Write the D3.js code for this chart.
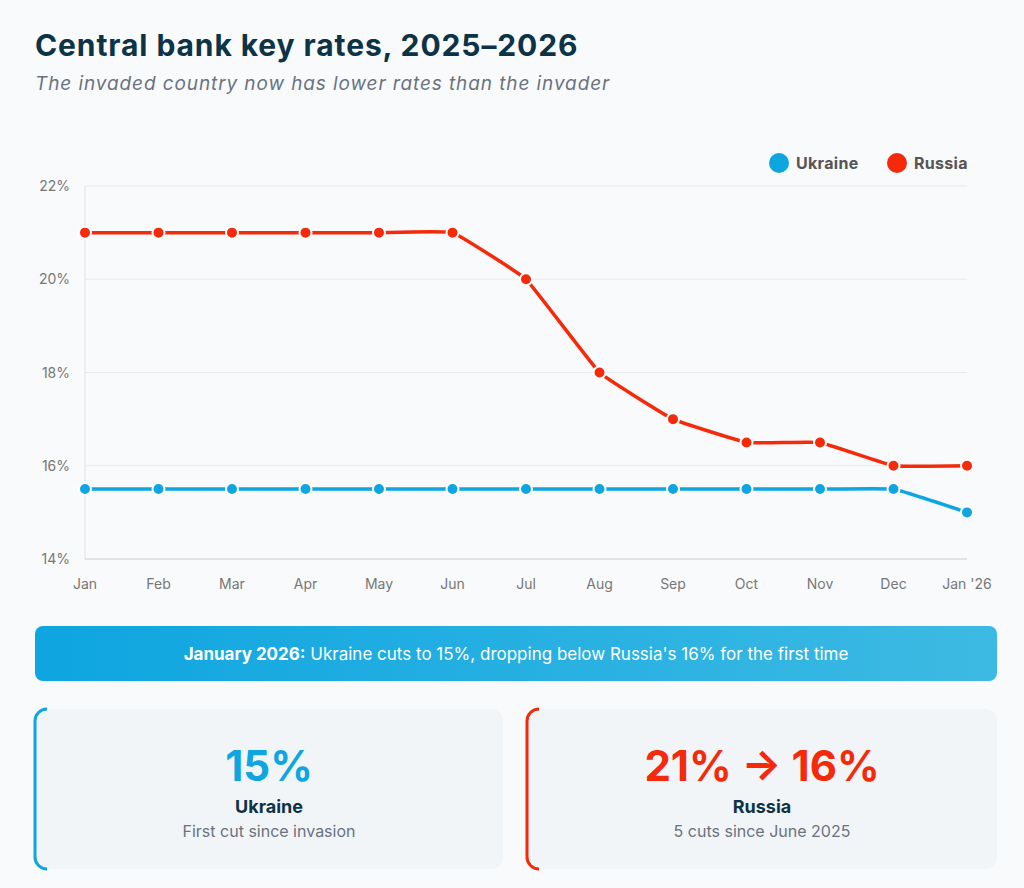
<!DOCTYPE html>
<html><head><meta charset="utf-8">
<script src="https://cdn.jsdelivr.net/npm/d3@7"></script>
<style>body{margin:0;background:#f8fafc;font-family:Inter,"Noto Sans",sans-serif;}</style>
</head><body><svg id="c" width="1024" height="888"></svg>
<script>
const months = ["Jan","Feb","Mar","Apr","May","Jun","Jul","Aug","Sep","Oct","Nov","Dec","Jan '26"];
const ukraine = [15.5,15.5,15.5,15.5,15.5,15.5,15.5,15.5,15.5,15.5,15.5,15.5,15];
const russia = [21,21,21,21,21,21,20,18,17,16.5,16.5,16,16];
const yTicks = [14,16,18,20,22];
const UA="#0ea5e0", RU="#f42a0a";
const svg=d3.select("#c");
svg.append("rect").attr("width",1024).attr("height",888).attr("fill","#f8fafc");
svg.append("text").attr("x",35).attr("y",56).attr("font-size",30).attr("font-weight",700).attr("letter-spacing",0.9).attr("fill","#0d3347").text("Central bank key rates, 2025–2026");
svg.append("text").attr("x",35).attr("y",90).attr("font-size",19).attr("font-style","italic").attr("letter-spacing",0.9).attr("fill","#6b7280").text("The invaded country now has lower rates than the invader");
const x=d3.scalePoint().domain(months).range([85,967]);
const y=d3.scaleLinear().domain([14,22]).range([559,186]);
const g=svg.append("g");
yTicks.forEach(t=>{
  g.append("line").attr("x1",85).attr("x2",967).attr("y1",y(t)).attr("y2",y(t)).attr("stroke","#e8ebee");
  g.append("text").attr("x",70).attr("y",y(t)+5).attr("text-anchor","end").attr("font-size",14).attr("fill","#777").text(t+"%");
});
g.append("line").attr("x1",85).attr("x2",85).attr("y1",186).attr("y2",559).attr("stroke","#e0e3e6");
g.append("line").attr("x1",85).attr("x2",967).attr("y1",559).attr("y2",559).attr("stroke","#d0d4d8");
months.forEach(m=>g.append("text").attr("x",x(m)).attr("y",589).attr("text-anchor","middle").attr("font-size",14).attr("fill","#777").text(m));
const line=d3.line().x((d,i)=>x(months[i])).y(d=>y(d)).curve(d3.curveCardinal.tension(0.75));
[[russia,RU],[ukraine,UA]].forEach(([s,c])=>{
  g.append("path").attr("d",line(s)).attr("fill","none").attr("stroke",c).attr("stroke-width",3.5).attr("stroke-linejoin","round");
  g.selectAll(null).data(s).enter().append("circle").attr("cx",(d,i)=>x(months[i])).attr("cy",d=>y(d)).attr("r",6).attr("fill",c).attr("stroke","#fff").attr("stroke-width",2);
});
[["Ukraine",UA,779],["Russia",RU,897]].forEach(([n,c,cx])=>{
  svg.append("circle").attr("cx",cx).attr("cy",163).attr("r",10).attr("fill",c);
  svg.append("text").attr("x",cx+17).attr("y",169).attr("font-size",16).attr("font-weight",700).attr("letter-spacing",0.3).attr("fill","#555").text(n);
});
const defs=svg.append("defs");
const gr=defs.append("linearGradient").attr("id","bg");
gr.append("stop").attr("offset","0").attr("stop-color","#0ea5e0");
gr.append("stop").attr("offset","1").attr("stop-color","#3dbae3");
svg.append("rect").attr("x",35).attr("y",626).attr("width",962).attr("height",55).attr("rx",8).attr("fill","url(#bg)");
const bt=svg.append("text").attr("x",516).attr("y",660).attr("text-anchor","middle").attr("font-size",17).attr("fill","#fff");
bt.append("tspan").attr("font-weight",700).text("January 2026:");
bt.append("tspan").text(" Ukraine cuts to 15%, dropping below Russia's 16% for the first time");
[[35,503,UA,"15%","Ukraine","First cut since invasion"],[527,997,RU,"21% → 16%","Russia","5 cuts since June 2025"]].forEach(([x0,x1,c,big,name,sub])=>{
  svg.append("rect").attr("x",x0).attr("y",709).attr("width",x1-x0).attr("height",160).attr("rx",12).attr("fill","#f1f5f7");
  svg.append("path").attr("d",`M${x0+12},709 A12,12 0 0 0 ${x0},721 L${x0},857 A12,12 0 0 0 ${x0+12},869`).attr("fill","none").attr("stroke",c).attr("stroke-width",3);
  const cx=(x0+x1)/2;
  svg.append("text").attr("x",cx).attr("y",781).attr("text-anchor","middle").attr("font-size",42).attr("font-weight",700).attr("fill",c).text(big);
  svg.append("text").attr("x",cx).attr("y",813).attr("text-anchor","middle").attr("font-size",18).attr("font-weight",700).attr("fill","#0d3347").text(name);
  svg.append("text").attr("x",cx).attr("y",837).attr("text-anchor","middle").attr("font-size",16).attr("fill","#6b7280").text(sub);
});
</script></body></html>
